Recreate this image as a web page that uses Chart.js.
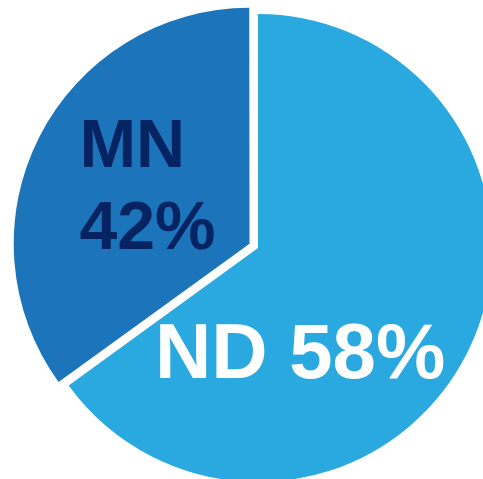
<!DOCTYPE html>
<html lang="en">
<head>
    <meta charset="UTF-8">
    <title>ND vs MN share</title>
    <script src="https://cdn.jsdelivr.net/npm/chart.js"></script>
    <style>
        html, body { margin: 0; padding: 0; background: #fff; }
        #wrap { width: 483px; height: 479px; }
    </style>
</head>
<body>
    <div id="wrap"><canvas id="chart"></canvas></div>

    <script>
        // Labels and the percentages printed on the graphic
        const categories = ['ND', 'MN'];
        const labelPercents = [58, 42];
        // Wedge sizes as drawn in the source graphic (measured from the picture,
        // the wedges are about 65/35 even though the printed text says 58/42)
        const sliceSizes = [65, 35];

        const sliceColors = ['#29a9e0', '#1c75ba'];
        const textColors = ['#ffffff', '#062462'];

        // Draws the text labels inside the slices
        const sliceLabels = {
            id: 'sliceLabels',
            afterDatasetsDraw(chart, args, opts) {
                const ctx = chart.ctx;
                const arcs = chart.getDatasetMeta(0).data;
                ctx.save();
                ctx.textBaseline = 'middle';
                arcs.forEach((arc, i) => {
                    const p = opts.place[i];
                    const r = arc.outerRadius;
                    const x = arc.x + p.dx * r;
                    const y = arc.y + p.dy * r;
                    ctx.fillStyle = textColors[i];
                    ctx.font = 'bold ' + p.size + 'px "Liberation Sans", Arial, sans-serif';
                    if (p.stacked) {
                        // two lines, left aligned
                        ctx.textAlign = 'left';
                        ctx.fillText(categories[i], x, y - p.size * 0.6);
                        ctx.fillText(labelPercents[i] + '%', x, y + p.size * 0.6);
                    } else {
                        ctx.textAlign = 'center';
                        ctx.fillText(categories[i] + ' ' + labelPercents[i] + '%', x, y);
                    }
                });
                ctx.restore();
            }
        };

        new Chart(document.getElementById('chart').getContext('2d'), {
            type: 'pie',
            data: {
                labels: categories,
                datasets: [{
                    data: sliceSizes,
                    backgroundColor: sliceColors,
                    borderWidth: 0,
                    offset: [0, 38], // v4 draws a quarter of this, ~9px pull-out
                    hoverOffset: 0,
                    clip: false
                }]
            },
            options: {
                responsive: true,
                maintainAspectRatio: false,
                animation: false,
                events: [],
                radius: 234,
                layout: { padding: { left: 33, top: 17, right: 0, bottom: 0 } },
                plugins: {
                    legend: { display: false },
                    tooltip: { enabled: false },
                    sliceLabels: {
                        place: [
                            { dx: 0.18, dy: 0.465, size: 78, stacked: false },
                            { dx: -0.763, dy: -0.25, size: 68, stacked: true }
                        ]
                    }
                }
            },
            plugins: [sliceLabels]
        });
    </script>
</body>
</html>
